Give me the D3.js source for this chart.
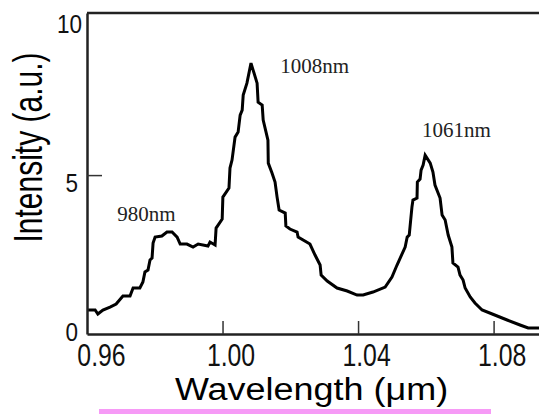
<!DOCTYPE html>
<html>
<head>
<meta charset="utf-8">
<script src="https://cdn.jsdelivr.net/npm/d3@7"></script>
<style>
  body { margin: 0; background: #fff; }
</style>
</head>
<body>
<div id="chart"></div>
<script>
// Spectrum: wavelength (um) and intensity (a.u.)
const wavelength = [
    0.9600, 0.9624, 0.9632, 0.9647, 0.9668, 0.9686, 0.9706, 0.9727, 0.9736, 0.9756,
    0.9765, 0.9771, 0.9780, 0.9786, 0.9792, 0.9795, 0.9801, 0.9821, 0.9836, 0.9851,
    0.9866, 0.9875, 0.9895, 0.9913, 0.9928, 0.9957, 0.9963, 0.9978, 0.9981, 0.9999,
    1.0001, 1.0019, 1.0022, 1.0028, 1.0037, 1.0046, 1.0052, 1.0058, 1.0061, 1.0072,
    1.0084, 1.0102, 1.0105, 1.0117, 1.0120, 1.0134, 1.0135, 1.0146, 1.0155, 1.0161,
    1.0167, 1.0185, 1.0187, 1.0199, 1.0220, 1.0223, 1.0258, 1.0273, 1.0288, 1.0291,
    1.0309, 1.0338, 1.0368, 1.0397, 1.0415, 1.0444, 1.0480, 1.0500, 1.0515, 1.0539,
    1.0545, 1.0551, 1.0559, 1.0562, 1.0574, 1.0575, 1.0583, 1.0586, 1.0592, 1.0598,
    1.0613, 1.0621, 1.0627, 1.0642, 1.0648, 1.0657, 1.0666, 1.0677, 1.0680, 1.0695,
    1.0701, 1.0710, 1.0716, 1.0731, 1.0745, 1.0766, 1.0796, 1.0840, 1.0878, 1.0902,
    1.0934
];
const intensity = [
    0.755, 0.755, 0.629, 0.755, 0.849, 0.943, 1.195, 1.195, 1.447, 1.447,
    1.635, 1.950, 2.013, 2.327, 2.390, 2.862, 3.050, 3.082, 3.208, 3.208,
    3.050, 2.830, 2.830, 2.736, 2.830, 2.767, 2.893, 2.799, 3.333, 3.616,
    4.308, 4.591, 5.220, 5.472, 6.195, 6.352, 6.887, 7.044, 7.516, 7.893,
    8.522, 7.893, 7.296, 7.201, 6.730, 6.101, 5.377, 5.063, 4.780, 4.308,
    3.899, 3.805, 3.396, 3.302, 3.208, 3.050, 2.830, 2.484, 2.170, 1.855,
    1.667, 1.447, 1.352, 1.226, 1.226, 1.321, 1.478, 1.792, 2.170, 2.736,
    3.050, 3.113, 3.994, 4.214, 4.277, 4.780, 4.874, 5.157, 5.314, 5.629,
    5.377, 5.094, 4.686, 4.277, 3.742, 3.585, 3.113, 2.736, 2.233, 2.107,
    1.855, 1.698, 1.447, 1.164, 0.975, 0.755, 0.629, 0.440, 0.283, 0.189,
    0.189
];

const xTicks = [0.96, 1.00, 1.04, 1.08];
const yTicks = [0, 5, 10];

// Peak annotations, anchored in data units
const peakLabels = ["980nm", "1008nm", "1061nm"];
const peakLabelX = [0.9689, 1.0170, 1.0589];
const peakLabelY = [3.56, 8.21, 6.20];

const width = 539;
const height = 414;
const margin = {top: 13, right: 0, bottom: 80, left: 87};

const x = d3.scaleLinear()
    .domain([0.96, 1.0934])
    .range([margin.left, width - margin.right]);

const y = d3.scaleLinear()
    .domain([0, 10.1])
    .range([height - margin.bottom, margin.top]);

const svg = d3.select("#chart")
    .append("svg")
    .attr("width", width)
    .attr("height", height);

svg.append("rect")
    .attr("width", width)
    .attr("height", height)
    .attr("fill", "#fff");

// Pink strip under the x label
svg.append("rect")
    .attr("x", 99)
    .attr("y", 409)
    .attr("width", 392)
    .attr("height", 5)
    .attr("fill", "#f69af6");

// Spectrum line
const points = wavelength.map((w, i) => ({w: w, v: intensity[i]}));
const line = d3.line()
    .x(d => x(d.w))
    .y(d => y(d.v));

svg.append("path")
    .datum(points)
    .attr("fill", "none")
    .attr("stroke", "#000")
    .attr("stroke-width", 3)
    .attr("stroke-linejoin", "miter")
    .attr("d", line);

// X axis (ticks pointing inward)
const xAxis = svg.append("g")
    .attr("transform", `translate(0,${y(0)})`)
    .call(d3.axisBottom(x)
        .tickValues(xTicks)
        .tickFormat(d3.format(".2f"))
        .tickSize(-13)
        .tickSizeOuter(0));

xAxis.select(".domain").attr("stroke", "#222").attr("stroke-width", 2.5);
xAxis.selectAll(".tick line")
    .attr("stroke", "#333")
    .attr("stroke-width", 1.5)
    .attr("display", d => d === 0.96 ? "none" : null);
xAxis.selectAll(".tick text")
    .attr("y", 0)
    .attr("dy", 0)
    .attr("fill", "#111")
    .style("font-family", "'Liberation Sans', Arial, sans-serif")
    .style("font-size", "31px")
    .attr("transform", d => `translate(${d === 0.96 ? 14 : 8},32) scale(0.8,1)`);

// Y axis (ticks pointing inward)
const yAxis = svg.append("g")
    .attr("transform", `translate(${x(0.96)},0)`)
    .call(d3.axisLeft(y)
        .tickValues(yTicks)
        .tickFormat(d3.format("d"))
        .tickSize(-15)
        .tickSizeOuter(0));

yAxis.select(".domain").attr("stroke", "#222").attr("stroke-width", 2.5);
yAxis.selectAll(".tick line")
    .attr("stroke", "#333")
    .attr("stroke-width", 1.5)
    .attr("display", d => d === 5 ? null : "none");
yAxis.selectAll(".tick text")
    .attr("x", 0)
    .attr("dy", 0)
    .attr("fill", "#111")
    .style("font-family", "'Liberation Sans', Arial, sans-serif")
    .style("font-size", "25px")
    .attr("transform", d => `translate(${d === 10 ? -5 : -9},${d === 0 ? 6 : 16}) scale(0.9,1)`);

// Top frame line
svg.append("line")
    .attr("x1", x(0.96))
    .attr("x2", width)
    .attr("y1", y(10.1))
    .attr("y2", y(10.1))
    .attr("stroke", "#222")
    .attr("stroke-width", 2.5);

// Axis titles
svg.append("text")
    .attr("transform", "translate(175,400) scale(1.16,1)")
    .style("font-family", "'Liberation Sans', Arial, sans-serif")
    .style("font-size", "31px")
    .attr("fill", "#000")
    .text("Wavelength (\u03bcm)");

svg.append("text")
    .attr("transform", "translate(42,147.5) rotate(-90) scale(1,1.33)")
    .attr("text-anchor", "middle")
    .style("font-family", "'Liberation Sans', Arial, sans-serif")
    .style("font-size", "30px")
    .attr("fill", "#000")
    .text("Intensity (a.u.)");

// Peak labels
svg.selectAll(".peak")
    .data(peakLabels)
    .join("text")
    .attr("class", "peak")
    .attr("x", (d, i) => x(peakLabelX[i]))
    .attr("y", (d, i) => y(peakLabelY[i]))
    .style("font-family", "'Liberation Serif', 'Times New Roman', serif")
    .style("font-size", "21px")
    .attr("fill", "#222")
    .text(d => d);
</script>
</body>
</html>
